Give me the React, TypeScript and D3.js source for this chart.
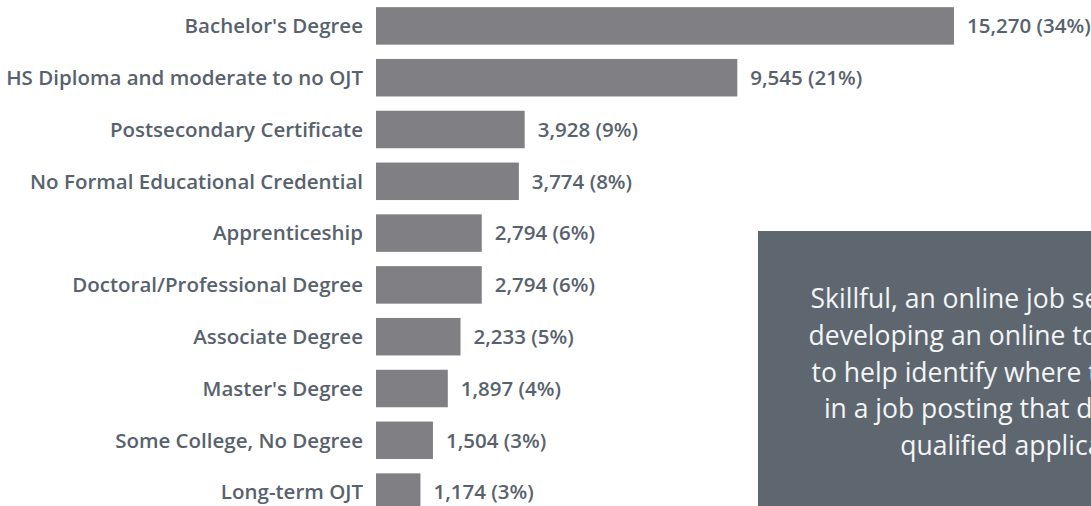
import React from "react";
import * as d3 from "d3";

const categories = [
  "Bachelor's Degree",
  "HS Diploma and moderate to no OJT",
  "Postsecondary Certificate",
  "No Formal Educational Credential",
  "Apprenticeship",
  "Doctoral/Professional Degree",
  "Associate Degree",
  "Master's Degree",
  "Some College, No Degree",
  "Long-term OJT",
];
const values = [15270, 9545, 3928, 3774, 2794, 2794, 2233, 1897, 1504, 1174];
const percents = [34, 21, 9, 8, 6, 6, 5, 4, 3, 3];
const noteLines = [
  "Skillful, an online job search site, is",
  "developing an online tool designed",
  "to help identify where the wording",
  "in a job posting that discourages",
  "qualified applicants.",
];

const W = 1091;
const H = 506;

export default function App() {
  const x = d3.scaleLinear().domain([0, d3.max(values) as number]).range([376, 954]);
  const y = d3
    .scaleBand<string>()
    .domain(categories)
    .range([0, 518])
    .paddingInner(0.276)
    .paddingOuter(0.138);
  const fmt = d3.format(",");
  const font = "'Open Sans', sans-serif";
  const box = { x: 758, y: 231, w: 532, h: 320 };
  const cx = box.x + box.w / 2;
  return (
    <svg
      width={W}
      height={H}
      style={{ position: "absolute", left: 0, top: 0, background: "#fff" }}
      fontFamily={font}
    >
      {categories.map((c, i) => {
        const yc = (y(c) as number) + y.bandwidth() / 2;
        return (
          <g key={c}>
            <rect
              x={x(0)}
              y={y(c)}
              width={x(values[i]) - x(0)}
              height={y.bandwidth()}
              fill="#808084"
            />
            <text
              x={x(0) - 13}
              y={yc}
              dy="0.36em"
              textAnchor="end"
              fontSize={20.5}
              fontWeight={600}
              fill="#58626d"
            >
              {c}
            </text>
            <text
              x={x(values[i]) + 13}
              y={yc}
              dy="0.36em"
              fontSize={20.5}
              fontWeight={600}
              fill="#58626d"
            >
              {`${fmt(values[i])} (${percents[i]}%)`}
            </text>
          </g>
        );
      })}
      <rect x={box.x} y={box.y} width={box.w} height={box.h} fill="#5e6770" />
      {noteLines.map((l, i) => (
        <text
          key={i}
          x={cx}
          y={308 + i * 36.75}
          textAnchor="middle"
          fontSize={26.5}
          fill="#f4f5f6"
        >
          {l}
        </text>
      ))}
    </svg>
  );
}
